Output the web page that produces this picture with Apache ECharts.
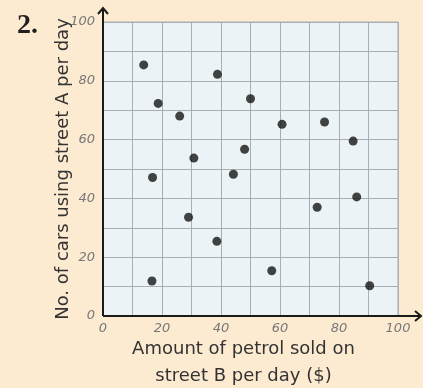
<!DOCTYPE html>
<html><head><meta charset="utf-8">
<script src="https://cdn.jsdelivr.net/npm/echarts@6/dist/echarts.min.js"></script>
<style>html,body{margin:0;padding:0;background:#FDEBD1;}#c{width:423px;height:388px;}</style>
</head><body><div id="c"></div>
<script>
const petrolB = [13.8, 38.8, 18.7, 50.0, 26.0, 60.7, 75.1, 84.8, 48.0, 30.8, 44.2, 16.8, 86.0, 72.6, 29.0, 38.6, 16.6, 57.2, 90.4];
const carsA   = [85.4, 82.2, 72.3, 73.9, 68.0, 65.2, 66.0, 59.5, 56.7, 53.7, 48.2, 47.1, 40.5, 37.0, 33.6, 25.4, 11.9, 15.4, 10.3];
const xTicks = [0, 20, 40, 60, 80, 100];
const yTicks = [0, 20, 40, 60, 80, 100];

const chart = echarts.init(document.getElementById('c'), null, {renderer:'canvas'});
const pts = petrolB.map((x,i)=>[x, carsA[i]]);
const tickFont = {color:'#777', fontStyle:'italic', fontFamily:'DejaVu Sans', fontSize:13};
const nameFont = {fontFamily:'DejaVu Sans', fontSize:18, color:'#333'};
const gridLeft = 103, gridTop = 22, gridRight = 25, gridBottom = 72;
chart.setOption({
  backgroundColor:'#FDEBD1',
  animation:false,
  title:{text:'2.', left:12, top:7, textStyle:{fontFamily:'Liberation Serif', fontWeight:'bold', fontSize:28, color:'#231f20'}},
  grid:{left:gridLeft, top:gridTop, right:gridRight, bottom:gridBottom, outerBoundsMode:'none', containLabel:false,
        show:true, backgroundColor:'#EBF3F6', borderColor:'#A9AEB3', borderWidth:1},
  xAxis:{type:'value', min:0, max:100, interval:10,
    axisLine:{show:false}, axisTick:{show:false},
    splitLine:{show:true, lineStyle:{color:'#A9AEB3', width:1}},
    axisLabel:Object.assign({margin:6, formatter:v=>xTicks.includes(v)?String(v):''}, tickFont),
    name:'Amount of petrol sold on\nstreet B per day ($)', nameLocation:'middle', nameGap:20, nameMoveOverlap:false,
    nameTextStyle:Object.assign({lineHeight:27, verticalAlign:'top', padding:[0,14,0,0]}, nameFont)
  },
  yAxis:{type:'value', min:0, max:100, interval:10,
    axisLine:{show:false}, axisTick:{show:false},
    splitLine:{show:true, lineStyle:{color:'#A9AEB3', width:1}},
    axisLabel:Object.assign({margin:8, formatter:v=>yTicks.includes(v)?String(v):''}, tickFont),
    name:'No. of cars using street A per day', nameLocation:'middle', nameGap:31, nameMoveOverlap:false,
    nameTextStyle:nameFont
  },
  series:[{type:'scatter', data:pts, symbolSize:9, itemStyle:{color:'#151515'}}]
});
const o = chart.convertToPixel({gridIndex:0}, [0,0]);
const xe = chart.convertToPixel({gridIndex:0}, [100,100]);
const ox=o[0], oy=o[1];
chart.setOption({graphic:[
  {type:'polyline', shape:{points:[[ox, oy],[ox, xe[1]-14]]}, style:{stroke:'#1a1a1a', lineWidth:2}, z:100},
  {type:'polyline', shape:{points:[[ox-5, xe[1]-8],[ox, xe[1]-14],[ox+5, xe[1]-8]]}, style:{stroke:'#1a1a1a', lineWidth:2, fill:null}, z:100},
  {type:'polyline', shape:{points:[[ox, oy],[xe[0]+23, oy]]}, style:{stroke:'#1a1a1a', lineWidth:2}, z:100},
  {type:'polyline', shape:{points:[[xe[0]+17, oy-5],[xe[0]+23, oy],[xe[0]+17, oy+5]]}, style:{stroke:'#1a1a1a', lineWidth:2, fill:null}, z:100}
]});
</script></body></html>
